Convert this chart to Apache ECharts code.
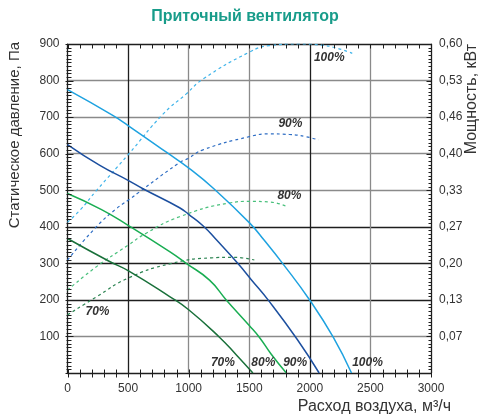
<!DOCTYPE html>
<html><head><meta charset="utf-8">
<script src="https://cdn.jsdelivr.net/npm/echarts@6/dist/echarts.min.js"></script>
<style>html,body{margin:0;padding:0;background:#fff}#c{width:491px;height:420px}</style>
</head><body><div id="c"></div>
<script>
// ---- texts ----
const chartTitle = 'Приточный вентилятор';
const xName = 'Расход воздуха, м³/ч';
const yLeftName = 'Статическое давление, Па';
const yRightName = 'Мощность, кВт';
const speedNames = ['70%', '80%', '90%', '100%'];
const rightTickLabels = ['', '0,07', '0,13', '0,20', '0,27', '0,33', '0,40', '0,46', '0,53', '0,60'];

// ---- static pressure curves (flow m3/h, pressure Pa) ----
const flow100 = [0, 377, 500, 816, 1007, 1201, 1504, 1624, 1775, 2000, 2193, 2344];
const pres100 = [775, 704, 677, 604, 559, 506, 410, 363, 300, 199, 98, 0];
const flow90 = [0, 267, 500, 623, 925, 1000, 1118, 1227, 1405, 1515, 1660, 1898, 2077];
const pres90 = [625, 568, 527, 504, 452, 434, 403, 365, 300, 256, 198, 91, 0];
const flow80 = [0, 281, 500, 843, 980, 1172, 1310, 1500, 1583, 1680, 1806];
const pres80 = [491, 447, 404, 332, 300, 254, 200, 130, 98, 52, 0];
const flow70 = [0, 347, 500, 843, 1000, 1254, 1392, 1530];
const pres70 = [368, 305, 280, 209, 173, 98, 50, 0];

// ---- power curves (flow m3/h, power kW) ----
const pflow100 = [0, 103, 240, 500, 788, 980, 1118, 1500, 1665, 1912, 2090, 2214, 2350];
const power100 = [0.275, 0.297, 0.333, 0.398, 0.472, 0.509, 0.536, 0.585, 0.597, 0.600, 0.598, 0.593, 0.583];
const pflow90 = [0, 240, 405, 500, 926, 993, 1118, 1500, 1665, 1830, 1967, 2071];
const power90 = [0.206, 0.267, 0.300, 0.315, 0.384, 0.391, 0.407, 0.431, 0.436, 0.435, 0.431, 0.425];
const pflow80 = [0, 240, 500, 650, 925, 1336, 1500, 1665, 1815];
const power80 = [0.151, 0.194, 0.233, 0.255, 0.285, 0.310, 0.313, 0.312, 0.303];
const pflow70 = [0, 240, 500, 843, 1190, 1364, 1542];
const power70 = [0.106, 0.139, 0.173, 0.199, 0.210, 0.211, 0.206];

// ---- tick positions (axis values) ----
const xMinorTicks = [];
for (let v = 0; v <= 3000; v += 100) xMinorTicks.push(v);
const yMinorTicks = [];
for (let v = 0; v <= 900; v += 10) yMinorTicks.push(v);

const FONT = '"Liberation Sans", Arial, sans-serif';
const labelStyle = {fontStyle: 'italic', fontWeight: 'bold', fontSize: 12, color: '#333', fontFamily: FONT};

function build(xs, ys, labelIdx, text, offset) {
  return xs.map((x, i) => {
    const item = {value: [x, ys[i]]};
    if (i === (labelIdx < 0 ? xs.length - 1 : labelIdx)) {
      item.label = Object.assign({show: true, position: 'inside', formatter: text, offset: offset}, labelStyle);
    }
    return item;
  });
}
function lineSeries(name, data, color, width, dashed, yIdx) {
  return {
    name, type: 'line', data, xAxisIndex: 0, yAxisIndex: yIdx, smooth: 0.5,
    showSymbol: true, symbol: 'circle', symbolSize: 1,
    itemStyle: {color: 'rgba(0,0,0,0)'},
    lineStyle: {color, width, type: dashed ? [3, 3] : 'solid'},
    emphasis: {disabled: true}, silent: true, z: dashed ? 3 : 4
  };
}

const c100 = '#1ea2e0', c90 = '#1c4f9f', c80 = '#19ad52', c70 = '#19703a';
const d100 = '#3fb4ea', d90 = '#2f6ec4', d80 = '#49c07c', d70 = '#2c8452';
const K = '#1e1e1e', G = '#8a8a8a';

// tick descriptors: [x, y, kind]
const tickData = [];
xMinorTicks.forEach(v => { tickData.push([v, 0, 0]); tickData.push([v, 900, 1]); });
yMinorTicks.forEach(v => {
  const major = v % 100 === 0;
  tickData.push([0, v, major ? 3 : 2]);
  tickData.push([3000, v, major ? 5 : 4]);
});

function renderTick(params, api) {
  const p = api.coord([api.value(0), api.value(1)]);
  const k = api.value(2);
  const x = Math.round(p[0]) + 0.5, y = Math.round(p[1]) + 0.5;
  let s;
  if (k === 0) s = {x1: x, y1: y - 4, x2: x, y2: y + 4};
  else if (k === 1) s = {x1: x, y1: y, x2: x, y2: y + 4};
  else if (k === 2) s = {x1: x - 2, y1: y, x2: x + 3, y2: y};
  else if (k === 3) s = {x1: x - 3, y1: y, x2: x + 5, y2: y};
  else if (k === 4) s = {x1: x - 3, y1: y, x2: x, y2: y};
  else s = {x1: x - 5, y1: y, x2: x, y2: y};
  return {type: 'line', shape: s, style: {stroke: K, lineWidth: 1}};
}

const series = [
  lineSeries('p100', build(flow100, pres100, -1, speedNames[3], [16, -10]), c100, 1.5, false, 0),
  lineSeries('p90', build(flow90, pres90, -1, speedNames[2], [-24, -10]), c90, 1.5, false, 0),
  lineSeries('p80', build(flow80, pres80, -1, speedNames[1], [-23, -10]), c80, 1.5, false, 0),
  lineSeries('p70', build(flow70, pres70, -1, speedNames[0], [-30, -10]), c70, 1.5, false, 0),
  lineSeries('w100', build(pflow100, power100, -1, speedNames[3], [-23, 4]), d100, 1.2, true, 1),
  lineSeries('w90', build(pflow90, power90, -1, speedNames[2], [-28, -16]), d90, 1.2, true, 1),
  lineSeries('w80', build(pflow80, power80, -1, speedNames[1], [2, -11]), d80, 1.2, true, 1),
  lineSeries('w70', build(pflow70, power70, 0, speedNames[0], [30, -3]), d70, 1.2, true, 1),
  {type: 'custom', name: 'ticks', xAxisIndex: 0, yAxisIndex: 0, data: tickData,
   dimensions: ['x', 'y', 'k'], encode: {x: 0, y: 1},
   renderItem: renderTick, silent: true, clip: false, z: 5}
];

const chart = echarts.init(document.getElementById('c'));
chart.setOption({
  animation: false,
  grid: {left: 67.5, right: 60, top: 44, bottom: 47},
  xAxis: [
    {type: 'value', min: 0, max: 3000, interval: 500,
     axisLine: {show: true, onZero: false, lineStyle: {color: K}},
     axisTick: {show: false}, minorTick: {show: false},
     axisLabel: {color: '#333', fontSize: 12, fontFamily: FONT, margin: 10, formatter: v => String(v)},
     splitLine: {show: true, lineStyle: {color: [K, K, G, G, K, G, K], width: 1.3}}},
    {type: 'value', min: 0, max: 3000, interval: 500, position: 'top',
     axisLine: {show: true, onZero: false, lineStyle: {color: K}},
     axisTick: {show: false}, minorTick: {show: false},
     axisLabel: {show: false}, splitLine: {show: false}}
  ],
  yAxis: [
    {type: 'value', min: 0, max: 900, interval: 100,
     axisLine: {show: true, onZero: false, lineStyle: {color: K}},
     axisTick: {show: false}, minorTick: {show: false},
     axisLabel: {color: '#333', fontSize: 12, fontFamily: FONT, margin: 8,
                 formatter: v => (v === 0 ? '' : String(v))},
     splitLine: {show: true, lineStyle: {color: [K, G, K, K, K, G, G, G, G, K], width: 1.3}}},
    {type: 'value', min: 0, max: 0.6, interval: 0.6 / 9, position: 'right',
     axisLine: {show: true, onZero: false, lineStyle: {color: K}},
     axisTick: {show: false}, minorTick: {show: false},
     axisLabel: {color: '#333', fontSize: 12, fontFamily: FONT, margin: 8,
                 formatter: v => rightTickLabels[Math.round(v * 9 / 0.6)] || ''},
     splitLine: {show: false}}
  ],
  graphic: [
    {type: 'text', x: 245, y: 17, style: {text: chartTitle, fill: '#189c8a', font: 'bold 16px ' + FONT, align: 'center', verticalAlign: 'middle'}},
    {type: 'text', x: 15, y: 42, rotation: Math.PI / 2, style: {text: yLeftName, fill: '#333', font: '15px ' + FONT, align: 'right', verticalAlign: 'middle'}},
    {type: 'text', x: 472, y: 44, rotation: Math.PI / 2, style: {text: yRightName, fill: '#333', font: '16px ' + FONT, align: 'right', verticalAlign: 'middle'}},
    {type: 'text', x: 451, y: 407, style: {text: xName, fill: '#333', font: '16px ' + FONT, align: 'right', verticalAlign: 'middle'}}
  ],
  series: series
});
</script>
</body></html>
